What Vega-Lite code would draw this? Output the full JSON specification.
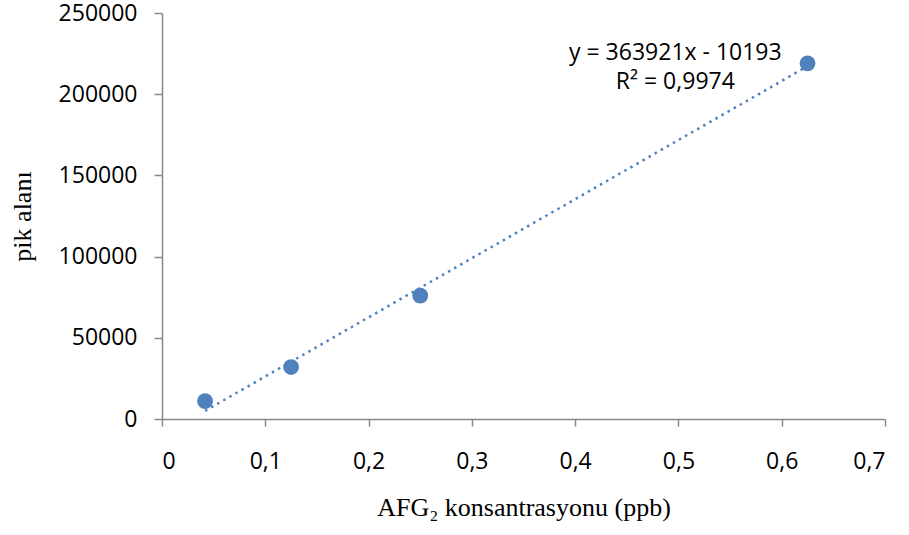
{
  "$schema": "https://vega.github.io/schema/vega-lite/v6.json",
  "width": 723,
  "height": 406,
  "autosize": {"type": "none"},
  "padding": {"left": 162, "top": 13, "right": 24, "bottom": 116},
  "background": "white",
  "config": {"view": {"stroke": null}},
  "datasets": {
    "points": [
      {"x": 0.0417, "y": 11000},
      {"x": 0.125, "y": 32000},
      {"x": 0.25, "y": 76000},
      {"x": 0.625, "y": 219000}
    ],
    "trend": [
      {"x": 0.0417, "y": 4982},
      {"x": 0.625, "y": 217258}
    ],
    "label": [
      {"x": 0.497, "y": 225400, "t": "y = 363921x - 10193"},
      {"x": 0.497, "y": 207500, "t": "R² = 0,9974"}
    ]
  },
  "layer": [
    {
      "data": {"name": "trend"},
      "mark": {"type": "line", "color": "#4F81BD", "strokeWidth": 2.5, "strokeDash": [2.5, 4.5]},
      "encoding": {
        "x": {
          "field": "x", "type": "quantitative",
          "scale": {"domain": [0, 0.7], "nice": false, "zero": false},
          "axis": {
            "values": [0, 0.1, 0.2, 0.3, 0.4, 0.5, 0.6, 0.7],
            "format": ".1~f",
            "labelExpr": "replace(datum.label, '.', ',')",
            "grid": false,
            "domainColor": "#888888", "domainWidth": 1.5,
            "tickColor": "#888888", "tickWidth": 1.5, "tickSize": 7,
            "labelFont": "Open Sans", "labelFontSize": 23, "labelColor": "#000000",
            "labelPadding": 24,
            "title": "AFG₂ konsantrasyonu (ppb)",
            "titleFont": "Liberation Serif", "titleFontSize": 26, "titleFontWeight": "normal",
            "titleColor": "#000000", "titlePadding": 21
          }
        },
        "y": {
          "field": "y", "type": "quantitative",
          "scale": {"domain": [0, 250000], "nice": false},
          "axis": {
            "values": [0, 50000, 100000, 150000, 200000, 250000],
            "format": "d",
            "grid": false,
            "domainColor": "#888888", "domainWidth": 1.5,
            "tickColor": "#888888", "tickWidth": 1.5, "tickSize": 8,
            "labelFont": "Open Sans", "labelFontSize": 23, "labelColor": "#000000",
            "labelPadding": 17,
            "title": "pik alanı",
            "titleFont": "Liberation Serif", "titleFontSize": 26, "titleFontWeight": "normal",
            "titleColor": "#000000", "titlePadding": 23
          }
        }
      }
    },
    {
      "data": {"name": "points"},
      "mark": {"type": "circle", "color": "#4F81BD", "opacity": 1, "size": 250},
      "encoding": {
        "x": {"field": "x", "type": "quantitative"},
        "y": {"field": "y", "type": "quantitative"}
      }
    },
    {
      "data": {"name": "label"},
      "mark": {"type": "text", "font": "Open Sans", "fontSize": 23, "color": "#000000", "align": "center", "baseline": "middle"},
      "encoding": {
        "x": {"field": "x", "type": "quantitative"},
        "y": {"field": "y", "type": "quantitative"},
        "text": {"field": "t"}
      }
    }
  ]
}
